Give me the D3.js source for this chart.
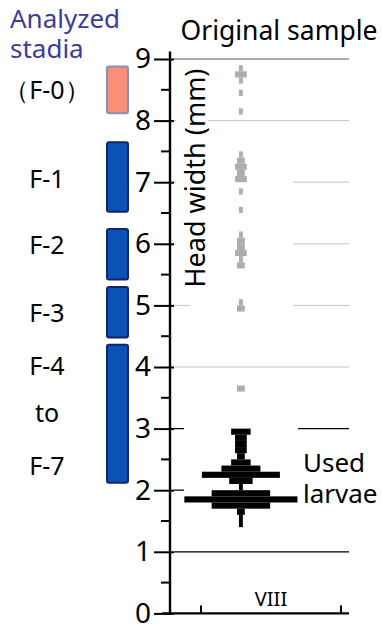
<!DOCTYPE html>
<html>
<head>
<meta charset="utf-8">
<script src="https://cdn.jsdelivr.net/npm/d3@7"></script>
<style>
  body { margin: 0; background: #fff; }
  svg { display: block; }
  text { font-family: "Noto Sans", "Open Sans", sans-serif; }
</style>
</head>
<body>
<svg id="chart"></svg>
<script>
// analyzed stadia, head width ranges (mm)
const stadiaNames = ["F-0", "F-1", "F-2", "F-3", "F-4 to F-7"];
const stadiaLow = [8.12, 6.52, 5.42, 4.48, 2.12];
const stadiaHigh = [8.88, 7.65, 6.24, 5.30, 4.36];
const stadiaLabels = ["（F-0）", "F-1", "F-2", "F-3", "F-4", "to", "F-7"];
const stadiaLabelAt = [8.5, 7.05, 5.97, 4.87, 4.02, 3.25, 2.39];

// head width histograms, 0.1 mm bins (lower edge) and counts
const originalBins = [8.8, 8.7, 8.6, 8.4, 8.1, 7.4, 7.3, 7.2, 7.1, 7.0, 6.8, 6.5, 6.1, 6.0, 5.9, 5.8, 5.7, 5.6, 5.0, 4.9, 3.6];
const originalCounts = [1, 3, 1, 1, 1, 1, 2, 3, 2, 3, 1, 1, 1, 2, 2, 3, 1, 2, 1, 2, 2];
const usedBins = [2.9, 2.8, 2.7, 2.6, 2.5, 2.4, 2.3, 2.2, 2.1, 2.0, 1.9, 1.8, 1.7, 1.6, 1.5, 1.4];
const usedCounts = [5, 3, 3, 3, 2, 5, 10, 20, 6, 1, 15, 29, 15, 2, 1, 1];

const yTicks = [0, 1, 2, 3, 4, 5, 6, 7, 8, 9];
const yMinorTicks = [0.5, 1.5, 2.5, 3.5, 4.5, 5.5, 6.5, 7.5, 8.5];
const gridLevels = [9, 8, 7, 6, 5, 4, 3, 2, 1];
const groupName = "VIII";
const binWidth = 0.1;

const width = 382, height = 630;
const svg = d3.select("#chart").attr("width", width).attr("height", height);

const y = d3.scaleLinear().domain([0, 9]).range([613.4, 59]);
const x = d3.scaleBand().domain([groupName]).range([201, 341]);
const w = d3.scaleLinear().domain([0, 1]).range([0, 3.9]);
const axisX = 170;
const cx = x(groupName) + x.bandwidth() * 0.285;

// gridlines
svg.append("g")
    .selectAll("line")
    .data(gridLevels)
    .join("line")
    .attr("x1", 174)
    .attr("x2", 349)
    .attr("y1", d => y(d))
    .attr("y2", d => y(d))
    .attr("stroke", d => d == 9 ? "#aaaaaa" : (d <= 3 ? "#000" : "#c4c4c4"))
    .attr("stroke-width", d => d == 9 ? 2 : (d <= 3 ? 1.3 : 1));

// white backgrounds behind labels and distributions
const masks = [
    [176, 63, 32, 230],
    [190, 130, 103, 185],
    [184, 418, 114, 127],
    [298, 445, 84, 65]
];
svg.append("g")
    .selectAll("rect")
    .data(masks)
    .join("rect")
    .attr("x", d => d[0]).attr("y", d => d[1])
    .attr("width", d => d[2]).attr("height", d => d[3])
    .attr("fill", "#fff");

// histograms
function drawHist(bins, counts, color) {
    svg.append("g")
        .selectAll("rect")
        .data(bins.map((b, i) => ({b: b, n: counts[i]})))
        .join("rect")
        .attr("x", d => cx - w(d.n) / 2)
        .attr("y", d => y(d.b + binWidth))
        .attr("width", d => w(d.n))
        .attr("height", d => y(d.b) - y(d.b + binWidth))
        .attr("fill", color);
}
drawHist(originalBins, originalCounts, "#adadad");
drawHist(usedBins, usedCounts, "#000");

// y axis
const yAxis = svg.append("g")
    .attr("transform", `translate(${axisX},0)`)
    .call(d3.axisLeft(y).tickValues(yTicks).tickSize(16).tickPadding(3).tickFormat(d3.format("d")));
yAxis.select(".domain").remove();
yAxis.selectAll(".tick line").attr("x1", 4).attr("stroke", "#000").attr("stroke-width", 2);
yAxis.selectAll(".tick text")
    .attr("font-family", "Noto Sans")
    .attr("font-size", 28)
    .attr("fill", "#000");
yAxis.append("g")
    .selectAll("line")
    .data(yMinorTicks)
    .join("line")
    .attr("x1", -9).attr("x2", 0)
    .attr("y1", d => y(d)).attr("y2", d => y(d))
    .attr("stroke", "#000").attr("stroke-width", 2);
yAxis.append("line")
    .attr("x1", 0).attr("x2", 0)
    .attr("y1", y(9.12)).attr("y2", y(0))
    .attr("stroke", "#000").attr("stroke-width", 2.4);

// x axis
svg.append("line")
    .attr("x1", axisX - 8).attr("x2", 349)
    .attr("y1", y(0)).attr("y2", y(0))
    .attr("stroke", "#000").attr("stroke-width", 2.4);
svg.append("g")
    .selectAll("line")
    .data(x.range())
    .join("line")
    .attr("x1", d => d).attr("x2", d => d)
    .attr("y1", y(0)).attr("y2", y(0) - 8)
    .attr("stroke", "#000").attr("stroke-width", 2);
svg.append("text")
    .attr("x", x(groupName) + x.bandwidth() / 2)
    .attr("y", 606)
    .attr("text-anchor", "middle")
    .attr("font-size", 20)
    .text(groupName);

// axis title
svg.append("text")
    .attr("transform", `translate(205,178) rotate(-90)`)
    .attr("text-anchor", "middle")
    .attr("font-size", 27)
    .text("Head width (mm)");

svg.append("text")
    .attr("x", 279).attr("y", 40)
    .attr("text-anchor", "middle")
    .attr("font-size", 26.5)
    .text("Original sample");

svg.append("text")
    .attr("x", 303).attr("y", 472)
    .attr("font-size", 26)
    .selectAll("tspan")
    .data(["Used", "larvae"])
    .join("tspan")
    .attr("x", 303)
    .attr("dy", (d, i) => i ? 31 : 0)
    .text(d => d);

// stadia panel
svg.append("text")
    .attr("x", 10).attr("y", 28)
    .attr("font-size", 26)
    .attr("fill", "#3c3c9c")
    .selectAll("tspan")
    .data(["Analyzed", "stadia"])
    .join("tspan")
    .attr("x", 10)
    .attr("dy", (d, i) => i ? 29.5 : 0)
    .text(d => d);

svg.append("g")
    .selectAll("rect")
    .data(stadiaNames.map((s, i) => ({s: s, lo: stadiaLow[i], hi: stadiaHigh[i]})))
    .join("rect")
    .attr("x", 107)
    .attr("y", d => y(d.hi))
    .attr("width", 21)
    .attr("height", d => y(d.lo) - y(d.hi))
    .attr("rx", 2)
    .attr("fill", d => d.s == "F-0" ? "#f98f79" : "#0b51b6")
    .attr("stroke", d => d.s == "F-0" ? "#8c8cb8" : "#10256a")
    .attr("stroke-width", 2);

svg.append("g")
    .selectAll("text")
    .data(stadiaLabels.map((s, i) => ({s: s, v: stadiaLabelAt[i]})))
    .join("text")
    .attr("x", 47)
    .attr("y", d => y(d.v))
    .attr("dy", "0.35em")
    .attr("text-anchor", "middle")
    .attr("font-size", 25)
    .text(d => d.s);
</script>
</body>
</html>
